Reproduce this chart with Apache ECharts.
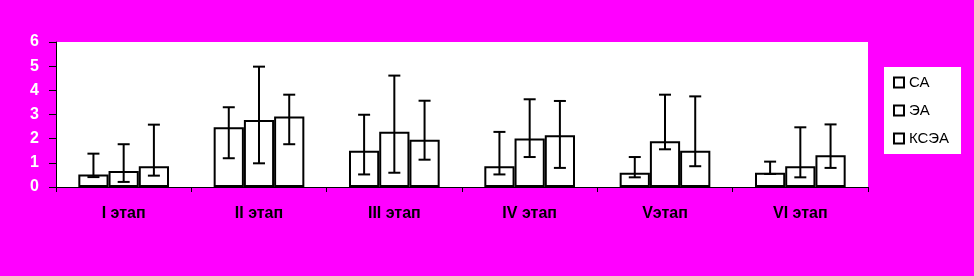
<!DOCTYPE html>
<html><head><meta charset="utf-8">
<script src="https://cdn.jsdelivr.net/npm/echarts@6/dist/echarts.min.js"></script>
<style>html,body{margin:0;padding:0;background:#FF00FF;}#c{width:974px;height:276px;}</style>
</head><body><div id="c"></div>
<script>
var categories = ['I этап', 'II этап', 'III этап', 'IV этап', 'Vэтап', 'VI этап'];
var seriesNames = ['СА', 'ЭА', 'КСЭА'];
var saMean = [0.52, 2.47, 1.50, 0.86, 0.59, 0.59];
var saLow  = [0.41, 1.19, 0.52, 0.52, 0.40, 0.54];
var saHigh = [1.38, 3.30, 2.99, 2.28, 1.24, 1.05];
var eaMean = [0.66, 2.77, 2.29, 2.01, 1.89, 0.86];
var eaLow  = [0.21, 0.98, 0.59, 1.24, 1.56, 0.40];
var eaHigh = [1.77, 4.98, 4.61, 3.63, 3.82, 2.47];
var kseaMean = [0.86, 2.92, 1.96, 2.14, 1.50, 1.31];
var kseaLow  = [0.47, 1.77, 1.13, 0.79, 0.86, 0.79];
var kseaHigh = [2.58, 3.82, 3.57, 3.56, 3.75, 2.59];
var yTicks = [0, 1, 2, 3, 4, 5, 6];

var means = [saMean, eaMean, kseaMean];
var lows = [saLow, eaLow, kseaLow];
var highs = [saHigh, eaHigh, kseaHigh];
var gapFrac = 0.33;

var chart = echarts.init(document.getElementById('c'));
var series = [];
seriesNames.forEach(function (name, i) {
  series.push({
    name: name, type: 'bar', data: means[i],
    barGap: '0%', barCategoryGap: '33%',
    itemStyle: { color: '#fff', borderColor: '#000', borderWidth: 2 },
    z: 2
  });
});
seriesNames.forEach(function (name, i) {
  var data = categories.map(function (c, k) { return [k, lows[i][k], highs[i][k]]; });
  series.push({
    name: name + '_err', type: 'custom', data: data, z: 5,
    renderItem: function (params, api) {
      var k = api.value(0);
      var band = api.size([1, 0])[0];
      var bw = band * (1 - gapFrac) / 3;
      var off = (i - 1) * bw;
      var lo = api.coord([k, api.value(1)]);
      var hi = api.coord([k, api.value(2)]);
      var x = lo[0] + off;
      var cap = 6;
      var st = { stroke: '#000', lineWidth: 2 };
      return { type: 'group', children: [
        { type: 'line', shape: { x1: x, y1: lo[1], x2: x, y2: hi[1] }, style: st },
        { type: 'line', shape: { x1: x - cap, y1: lo[1], x2: x + cap, y2: lo[1] }, style: st },
        { type: 'line', shape: { x1: x - cap, y1: hi[1], x2: x + cap, y2: hi[1] }, style: st }
      ]};
    }
  });
});

chart.setOption({
  backgroundColor: '#FF00FF',
  animation: false,
  grid: { left: 56, right: 106, top: 42, bottom: 89, show: true, backgroundColor: '#fff', borderWidth: 0 },
  legend: {
    data: seriesNames, orient: 'vertical', left: 884, top: 67,
    backgroundColor: '#fff', padding: [8, 12, 8, 9], itemGap: 13,
    itemWidth: 10, itemHeight: 10, icon: 'rect',
    itemStyle: { color: '#fff', borderColor: '#000', borderWidth: 2 },
    textStyle: { fontFamily: 'Liberation Sans, Arial', fontSize: 15, color: '#000' }
  },
  xAxis: {
    type: 'category', data: categories,
    axisLine: { lineStyle: { color: '#000', width: 1 } },
    axisTick: { show: true, length: 5, lineStyle: { color: '#000' } },
    axisLabel: { margin: 19, fontFamily: 'Liberation Sans, Arial', fontWeight: 'bold', fontSize: 16, color: '#000',
      textShadowColor: '#fff', textShadowOffsetX: -1, textShadowOffsetY: 0, textShadowBlur: 0 },
    splitLine: { show: false }
  },
  yAxis: {
    type: 'value', min: 0, max: 6, interval: 1,
    axisLine: { show: true, lineStyle: { color: '#000', width: 1 } },
    axisTick: { show: true, length: 7, lineStyle: { color: '#000' } },
    axisLabel: { margin: 17, fontFamily: 'Liberation Sans, Arial', fontWeight: 'bold', fontSize: 16, color: '#fff',
      textShadowColor: '#000', textShadowOffsetX: 1, textShadowOffsetY: 1, textShadowBlur: 0,
      formatter: function (v) { return yTicks.indexOf(v) >= 0 ? String(v) : ''; } },
    splitLine: { show: false }
  },
  series: series
});
</script>
</body></html>
